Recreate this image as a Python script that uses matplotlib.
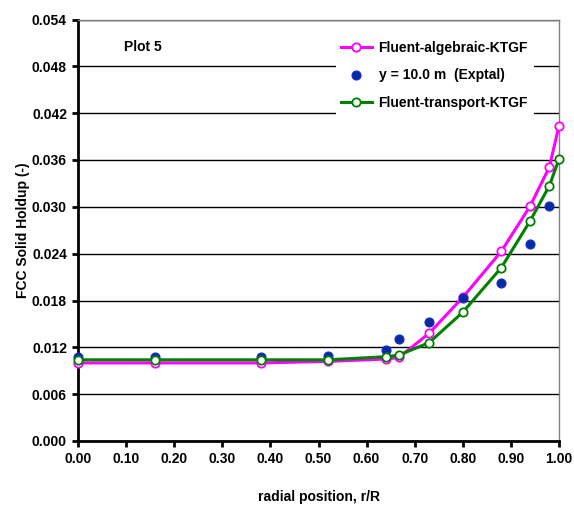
import matplotlib
matplotlib.use("Agg")
import matplotlib.pyplot as plt
from matplotlib.ticker import FormatStrFormatter, MultipleLocator

plt.rcParams['font.family'] = ['Liberation Sans', 'DejaVu Sans']
plt.rcParams['font.weight'] = 'bold'

# Data
x_model = [0.0, 0.16, 0.38, 0.52, 0.64, 0.667, 0.73, 0.80, 0.88, 0.94, 0.98, 1.0]
algebraic = [0.0100, 0.0100, 0.0100, 0.0102, 0.0105, 0.0107, 0.0138, 0.0184, 0.0243, 0.0301, 0.0351, 0.0404]
transport = [0.0104, 0.0104, 0.0104, 0.0104, 0.0108, 0.0110, 0.0126, 0.0165, 0.0222, 0.0282, 0.0327, 0.0361]
x_exp = [0.0, 0.16, 0.38, 0.52, 0.64, 0.667, 0.73, 0.80, 0.88, 0.94, 0.98]
exptal = [0.0107, 0.0107, 0.0107, 0.0109, 0.0117, 0.0131, 0.0152, 0.0183, 0.0202, 0.0252, 0.0301]

labels = ['Fluent-algebraic-KTGF', 'y = 10.0 m  (Exptal)', 'Fluent-transport-KTGF']

fig = plt.figure(figsize=(5.74, 5.05), dpi=100)
ax = fig.add_axes([78/574, 1-441/505, (559-78)/574, (441-19.5)/505])

ax.plot(x_model, algebraic, color='#FF00FF', lw=2.2, marker='o', ms=6,
        mfc='white', mec='#FF00FF', mew=1.3, label=labels[0], zorder=3, clip_on=False)
ax.plot(x_exp, exptal, linestyle='none', marker='o', ms=6.5, mfc='#0a2a9a',
        mec='#1030e0', mew=0.8, label=labels[1], zorder=4, clip_on=False)
ax.plot(x_model, transport, color='#008000', lw=2.2, marker='o', ms=6,
        mfc='white', mec='#008000', mew=1.3, label=labels[2], zorder=5, clip_on=False)

ax.set_xlim(0, 1.0)
ax.set_ylim(0, 0.054)
ax.xaxis.set_major_locator(MultipleLocator(0.1))
ax.yaxis.set_major_locator(MultipleLocator(0.006))
ax.xaxis.set_major_formatter(FormatStrFormatter('%.2f'))
ax.yaxis.set_major_formatter(FormatStrFormatter('%.3f'))
ax.grid(axis='y', color='black', lw=1.0)
ax.set_axisbelow(True)

for s in ['left', 'bottom']:
    ax.spines[s].set_linewidth(2.0)
    ax.spines[s].set_color('black')
for s in ['top', 'right']:
    ax.spines[s].set_linewidth(1.0)
    ax.spines[s].set_color('#808080')

ax.tick_params(axis='both', direction='out', length=4, width=2, labelsize=10, pad=4)
for lab in ax.get_xticklabels() + ax.get_yticklabels():
    lab.set_fontweight('bold')

ax.set_xlabel('radial position, r/R', fontsize=10, fontweight='bold', labelpad=17)
ax.set_ylabel('FCC Solid Holdup (-)', fontsize=10, fontweight='bold', labelpad=1)

ax.text(0.135, 0.935, 'Plot 5', transform=ax.transAxes, ha='center', va='center',
        fontsize=10, fontweight='bold')

leg = ax.legend(loc='upper left', bbox_to_anchor=(0.521, 0.978), frameon=True,
                facecolor='white', edgecolor='none', framealpha=1, fancybox=False,
                fontsize=10, labelspacing=0.95, handlelength=2.2, handletextpad=0.5,
                borderpad=0.4)
leg.set_zorder(6)
for t in leg.get_texts():
    t.set_fontweight('bold')

fig.savefig('out.png', dpi=100)
